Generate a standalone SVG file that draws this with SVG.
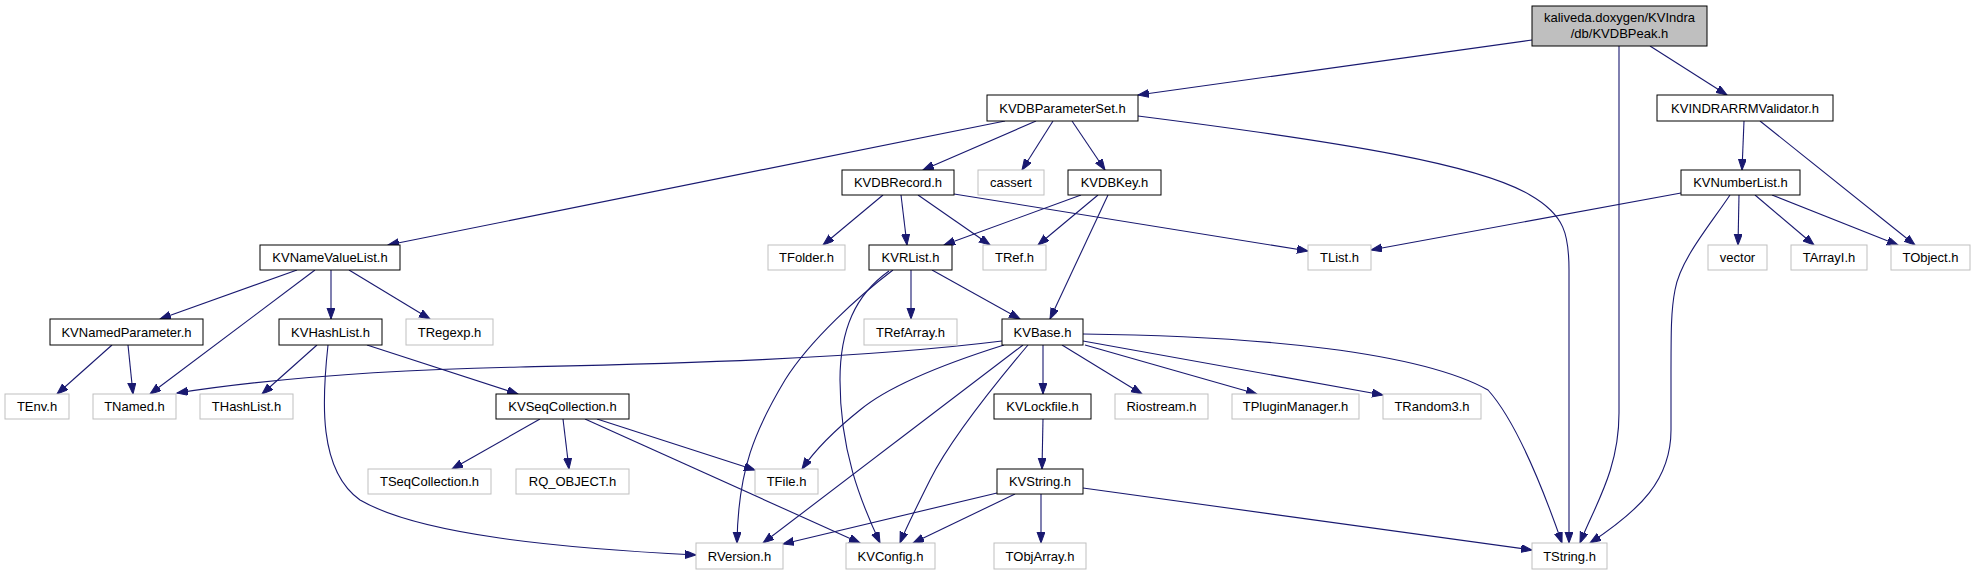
<svg xmlns="http://www.w3.org/2000/svg" width="1975" height="575" viewBox="0 0 1975 575">
<style>
.n rect{fill:#ffffff;stroke:#000000;stroke-width:1}
.g rect{fill:#ffffff;stroke:#bfbfbf;stroke-width:1}
.r rect{fill:#bfbfbf;stroke:#000000;stroke-width:1}
text{font-family:"Liberation Sans",Arial,sans-serif;font-size:13px;fill:#000000;text-anchor:middle}
#edges path{fill:none;stroke:#191970;stroke-width:1.1;marker-end:url(#ah)}
</style>
<defs>
<marker id="ah" markerUnits="userSpaceOnUse" markerWidth="13" markerHeight="10" refX="11" refY="4" orient="auto">
<path d="M0,0 L11,4 L0,8 z" fill="#191970" stroke="#191970" stroke-width="1"/>
</marker>
</defs>
<rect width="1975" height="575" fill="#ffffff"/>
<g id="edges">
<path d="M1532,40 L1138,95"/>
<path d="M1650,46 L1727,95"/>
<path d="M1619,46 L1619,413 C1619,470 1595,505 1580,543"/>
<path d="M1005,121 L388,245"/>
<path d="M1036,121 L923,170"/>
<path d="M1053,121 L1022,170"/>
<path d="M1072,121 L1105,170"/>
<path d="M1138,116 C1350,143 1480,165 1530,195 C1565,215 1569,235 1569,270 L1569,543"/>
<path d="M1744,121 L1742,170"/>
<path d="M1760,121 L1915,245"/>
<path d="M1681,193 L1371,250"/>
<path d="M1730,195 C1710,225 1680,260 1675,290 C1671,310 1671,330 1671,380 L1671,430 C1671,480 1640,510 1590,543"/>
<path d="M1739,195 L1738,245"/>
<path d="M1755,195 L1814,245"/>
<path d="M1772,195 L1898,245"/>
<path d="M883,195 L823,245"/>
<path d="M901,195 L907,245"/>
<path d="M918,195 L990,245"/>
<path d="M954,194 L1308,251"/>
<path d="M1081,195 L944,245"/>
<path d="M1098,195 L1038,245"/>
<path d="M1108,195 L1050,319"/>
<path d="M297,270 L160,319"/>
<path d="M315,270 L150,394"/>
<path d="M331,270 L331,319"/>
<path d="M349,270 L430,319"/>
<path d="M112,345 L57,394"/>
<path d="M128,345 L133,394"/>
<path d="M317,345 L262,394"/>
<path d="M367,345 L518,394"/>
<path d="M328,345 C322,400 318,470 360,500 C420,535 560,548 696,555"/>
<path d="M911,270 L911,319"/>
<path d="M932,270 L1020,319"/>
<path d="M893,270 C860,295 810,340 785,380 C755,430 738,470 737,543"/>
<path d="M889,271 C855,295 840,330 840,380 C840,450 860,500 880,543"/>
<path d="M1002,341 C850,360 650,364 520,367 C380,370 260,380 177,393"/>
<path d="M1004,345 C950,362 890,385 860,410 C835,430 815,450 802,469"/>
<path d="M1023,345 L763,543"/>
<path d="M1028,345 C990,390 950,440 930,480 C915,510 905,530 900,543"/>
<path d="M1043,345 L1043,394"/>
<path d="M1062,345 L1142,394"/>
<path d="M1085,345 L1257,394"/>
<path d="M1083,341 L1383,395"/>
<path d="M1083,334 C1260,336 1420,352 1488,390 C1515,420 1540,480 1562,543"/>
<path d="M540,419 L452,469"/>
<path d="M563,419 L569,469"/>
<path d="M597,419 L755,470"/>
<path d="M585,419 L860,543"/>
<path d="M1043,419 L1042,469"/>
<path d="M997,493 L783,544"/>
<path d="M1015,494 L913,543"/>
<path d="M1041,494 L1041,543"/>
<path d="M1083,488 L1532,550"/>
</g>
<g id="root" class="r"><rect x="1532" y="6" width="175" height="40"/><text x="1619.5" y="21.5">kaliveda.doxygen/KVIndra</text><text x="1619.5" y="37.5">/db/KVDBPeak.h</text></g>
<g id="KVDBParameterSet" class="n"><rect x="987" y="95" width="151" height="26"/><text x="1062.5" y="112.5">KVDBParameterSet.h</text></g>
<g id="KVINDRARRMValidator" class="n"><rect x="1657" y="95" width="176" height="26"/><text x="1745" y="112.5">KVINDRARRMValidator.h</text></g>
<g id="KVDBRecord" class="n"><rect x="842" y="170" width="112" height="25"/><text x="898" y="187">KVDBRecord.h</text></g>
<g id="cassert" class="g"><rect x="978" y="170" width="66" height="25"/><text x="1011" y="187">cassert</text></g>
<g id="KVDBKey" class="n"><rect x="1068" y="170" width="93" height="25"/><text x="1114.5" y="187">KVDBKey.h</text></g>
<g id="KVNumberList" class="n"><rect x="1681" y="170" width="119" height="25"/><text x="1740.5" y="187">KVNumberList.h</text></g>
<g id="KVNameValueList" class="n"><rect x="260" y="245" width="140" height="25"/><text x="330" y="262">KVNameValueList.h</text></g>
<g id="TFolder" class="g"><rect x="768" y="245" width="77" height="25"/><text x="806.5" y="262">TFolder.h</text></g>
<g id="KVRList" class="n"><rect x="869" y="245" width="83" height="25"/><text x="910.5" y="262">KVRList.h</text></g>
<g id="TRef" class="g"><rect x="983" y="245" width="63" height="25"/><text x="1014.5" y="262">TRef.h</text></g>
<g id="TList" class="g"><rect x="1308" y="245" width="63" height="25"/><text x="1339.5" y="262">TList.h</text></g>
<g id="vector" class="g"><rect x="1708" y="245" width="59" height="25"/><text x="1737.5" y="262">vector</text></g>
<g id="TArrayI" class="g"><rect x="1791" y="245" width="76" height="25"/><text x="1829" y="262">TArrayI.h</text></g>
<g id="TObject" class="g"><rect x="1891" y="245" width="79" height="25"/><text x="1930.5" y="262">TObject.h</text></g>
<g id="KVNamedParameter" class="n"><rect x="50" y="319" width="153" height="26"/><text x="126.5" y="336.5">KVNamedParameter.h</text></g>
<g id="KVHashList" class="n"><rect x="279" y="319" width="103" height="26"/><text x="330.5" y="336.5">KVHashList.h</text></g>
<g id="TRegexp" class="g"><rect x="406" y="319" width="87" height="26"/><text x="449.5" y="336.5">TRegexp.h</text></g>
<g id="TRefArray" class="g"><rect x="864" y="319" width="93" height="26"/><text x="910.5" y="336.5">TRefArray.h</text></g>
<g id="KVBase" class="n"><rect x="1002" y="319" width="81" height="26"/><text x="1042.5" y="336.5">KVBase.h</text></g>
<g id="TEnv" class="g"><rect x="5" y="394" width="64" height="25"/><text x="37" y="411">TEnv.h</text></g>
<g id="TNamed" class="g"><rect x="93" y="394" width="83" height="25"/><text x="134.5" y="411">TNamed.h</text></g>
<g id="THashList" class="g"><rect x="200" y="394" width="93" height="25"/><text x="246.5" y="411">THashList.h</text></g>
<g id="KVSeqCollection" class="n"><rect x="496" y="394" width="133" height="25"/><text x="562.5" y="411">KVSeqCollection.h</text></g>
<g id="KVLockfile" class="n"><rect x="994" y="394" width="97" height="25"/><text x="1042.5" y="411">KVLockfile.h</text></g>
<g id="Riostream" class="g"><rect x="1115" y="394" width="93" height="25"/><text x="1161.5" y="411">Riostream.h</text></g>
<g id="TPluginManager" class="g"><rect x="1232" y="394" width="127" height="25"/><text x="1295.5" y="411">TPluginManager.h</text></g>
<g id="TRandom3" class="g"><rect x="1383" y="394" width="98" height="25"/><text x="1432" y="411">TRandom3.h</text></g>
<g id="TSeqCollection" class="g"><rect x="368" y="469" width="123" height="25"/><text x="429.5" y="486">TSeqCollection.h</text></g>
<g id="RQ_OBJECT" class="g"><rect x="516" y="469" width="113" height="25"/><text x="572.5" y="486">RQ_OBJECT.h</text></g>
<g id="TFile" class="g"><rect x="755" y="469" width="63" height="25"/><text x="786.5" y="486">TFile.h</text></g>
<g id="KVString" class="n"><rect x="997" y="469" width="86" height="25"/><text x="1040" y="486">KVString.h</text></g>
<g id="RVersion" class="g"><rect x="696" y="543" width="87" height="26"/><text x="739.5" y="560.5">RVersion.h</text></g>
<g id="KVConfig" class="g"><rect x="846" y="543" width="89" height="26"/><text x="890.5" y="560.5">KVConfig.h</text></g>
<g id="TObjArray" class="g"><rect x="994" y="543" width="92" height="26"/><text x="1040" y="560.5">TObjArray.h</text></g>
<g id="TString" class="g"><rect x="1532" y="543" width="75" height="26"/><text x="1569.5" y="560.5">TString.h</text></g>
</svg>
